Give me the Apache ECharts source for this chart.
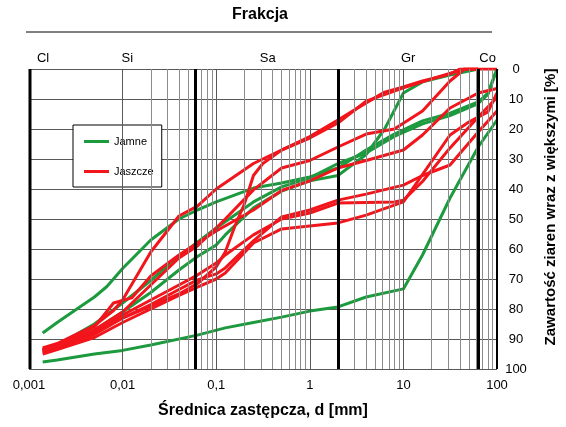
<!DOCTYPE html>
<html>
<head>
<meta charset="utf-8">
<script src="https://cdn.jsdelivr.net/npm/echarts@6/dist/echarts.min.js"></script>
<style>
  html, body { margin: 0; padding: 0; background: #fff; }
  #chart { width: 566px; height: 427px; }
</style>
</head>
<body>
<div id="chart"></div>
<script>
// Krzywe uziarnienia: [średnica d mm, zawartość ziaren wraz z większymi %]
const JAMNE_1 = [[0.0014,88],[0.002,84.5],[0.005,76],[0.0068,72.5],[0.01,66.5],[0.02,57],[0.04,50],[0.063,47],[0.1,44.3],[0.25,39.7],[0.5,38],[1,36],[2,33],[4,27],[8,21.7],[16,17.3],[31.5,14.7],[63,11],[80,8],[100,0]];
const JAMNE_2 = [[0.0014,93.5],[0.002,92],[0.005,85],[0.01,78],[0.02,70.5],[0.04,62.5],[0.063,57.7],[0.1,53],[0.25,44.3],[0.5,39.3],[1,36.3],[2,31.5],[4,28],[8,22.5],[16,18.3],[31.5,15.5],[63,11.5],[80,8.5],[100,0]];
const JAMNE_3 = [[0.0014,94],[0.002,92.5],[0.005,87],[0.01,81],[0.02,74.5],[0.04,67],[0.063,62.5],[0.1,58.7],[0.125,55.3],[0.25,46.3],[0.5,40.7],[1,37.3],[2,35.5],[4,28.5],[6.3,20],[10,8],[16,4.3],[31.5,2],[63,0]];
const JAMNE_4 = [[0.0014,97.7],[0.002,97],[0.005,95],[0.01,93.8],[0.02,92],[0.063,88.7],[0.125,86.3],[0.25,84.5],[0.5,82.7],[1,80.7],[2,79.3],[4,76],[10,73.3],[16,62],[31.5,43],[63,26],[100,17]];

const JASZCZE_1 = [[0.0014,93],[0.002,91.5],[0.005,85.5],[0.008,80.5],[0.01,77],[0.02,61],[0.04,49],[0.063,45.7],[0.1,40],[0.25,31.5],[0.5,27],[1,22.5],[2,17],[4,11.3],[6.3,7.7],[10,6],[16,4],[31.5,1.7],[40,0],[63,0],[100,0]];
const JASZCZE_2 = [[0.0014,93.5],[0.002,92],[0.005,86],[0.008,78],[0.0125,76.3],[0.02,69],[0.04,62],[0.063,58],[0.1,54],[0.25,47],[0.5,40.5],[1,37.3],[2,33],[4,30.5],[10,27],[16,22],[31.5,13],[63,8],[100,6.5]];
const JASZCZE_3 = [[0.0014,94],[0.002,92.5],[0.005,88],[0.01,83],[0.02,79],[0.04,75],[0.063,71.5],[0.1,66],[0.125,61],[0.16,52],[0.2,45],[0.25,35.5],[0.315,31.5],[0.5,27],[1,23],[2,18],[4,10.7],[10,6.3],[20,3.3],[45,0],[63,0]];
const JASZCZE_4 = [[0.0014,93.5],[0.002,92],[0.005,87.5],[0.01,82],[0.02,77],[0.04,72],[0.063,68.7],[0.1,64.7],[0.125,62],[0.25,55.3],[0.5,50],[1,48],[2,44.7],[4,44.5],[8,44.3],[10,43.7],[16,37.5],[31.5,26.3],[63,16],[100,9.5]];
const JASZCZE_5 = [[0.0014,94.5],[0.002,93],[0.005,88.5],[0.01,83],[0.02,78.5],[0.04,73.5],[0.063,70.3],[0.1,68.3],[0.125,66.3],[0.25,57.3],[0.5,49.3],[1,47],[2,43.7],[4,41.7],[10,38.7],[16,35.5],[31.5,32],[63,21],[100,14]];
const JASZCZE_6 = [[0.0014,95],[0.002,93.5],[0.005,89.5],[0.01,84.5],[0.02,80],[0.04,75.5],[0.063,72.7],[0.1,70],[0.125,68],[0.25,58],[0.5,53.3],[1,52.3],[2,51.3],[4,48.7],[10,44.3],[31.5,22],[50,17.7],[80,14.3],[100,8]];
const JASZCZE_7 = [[0.0014,94],[0.002,92.5],[0.005,87],[0.01,81],[0.02,72],[0.04,63],[0.063,59],[0.1,53],[0.125,50],[0.25,40.3],[0.5,33],[1,30.5],[2,26],[4,21.7],[8,20],[16,14],[31.5,4],[45,0],[63,0]];

const JAMNE = [JAMNE_1, JAMNE_2, JAMNE_3, JAMNE_4];
const JASZCZE = [JASZCZE_1, JASZCZE_2, JASZCZE_3, JASZCZE_4, JASZCZE_5, JASZCZE_6, JASZCZE_7];

const FRACTIONS = ['Cl', 'Si', 'Sa', 'Gr', 'Co'];
const FRACTION_BOUNDS = [0.001, 0.002, 0.063, 2, 63, 100];

const GREEN = '#1c9a3e';
const RED = '#f2151b';
const FONT = 'Liberation Sans, Arial, sans-serif';

// siatka pionowa: 1..9 w każdej dekadzie
const decadeLines = [], minorLines = [];
for (let e = -3; e < 2; e++) {
  const base = Math.pow(10, e);
  if (e > -3) decadeLines.push(+base.toPrecision(3));
  for (let k = 2; k <= 9; k++) minorLines.push(+(k * base).toPrecision(3));
}

function vLines(values, color, width) {
  return values.map(v => ({ xAxis: v, lineStyle: { color: color, width: width, type: 'solid' } }));
}

const gridSeries = {
  type: 'line',
  data: [],
  z: 1,
  silent: true,
  markLine: {
    silent: true,
    symbol: ['none', 'none'],
    label: { show: false },
    animation: false,
    data: [].concat(
      vLines(minorLines, '#8c8c8c', 1),
      vLines(decadeLines, '#595959', 1),
      vLines(FRACTION_BOUNDS.slice(1, 5), '#000', 3)
    )
  }
};

function curve(name, data, color) {
  return {
    name: name,
    type: 'line',
    data: data,
    symbol: 'none',
    z: 3,
    itemStyle: { color: color },
    lineStyle: { color: color, width: 3 },
    animation: false
  };
}

const option = {
  animation: false,
  backgroundColor: '#fff',
  textStyle: { fontFamily: FONT },
  grid: { left: 29, right: 69, top: 69, bottom: 58, containLabel: false },
  legend: {
    data: ['Jamne', 'Jaszcze'],
    orient: 'vertical',
    left: 73,
    top: 125,
    icon: 'rect',
    itemWidth: 25,
    itemHeight: 3,
    itemGap: 19,
    padding: [11, 8, 10, 11],
    borderColor: '#000',
    borderWidth: 1,
    backgroundColor: '#fff',
    textStyle: { fontSize: 11, color: '#000', fontFamily: FONT }
  },
  xAxis: {
    type: 'log',
    logBase: 10,
    min: 0.001,
    max: 100,
    axisLine: { show: false },
    axisTick: { show: false },
    splitLine: { show: false },
    axisLabel: {
      color: '#000',
      fontSize: 13,
      margin: 10,
      formatter: v => String(+(+v).toPrecision(6)).replace('.', ',')
    },
    name: 'Średnica zastępcza, d [mm]',
    nameLocation: 'middle',
    nameGap: 34,
    nameTextStyle: { color: '#000', fontSize: 16, fontWeight: 'bold' }
  },
  yAxis: {
    type: 'value',
    position: 'right',
    inverse: true,
    min: 0,
    max: 100,
    interval: 10,
    axisLine: { show: false },
    axisTick: { show: false },
    splitLine: { lineStyle: { color: '#595959', width: 1 } },
    axisLabel: { color: '#000', fontSize: 13, align: 'center', margin: 19 },
    name: 'Zawartość ziaren wraz z większymi [%]',
    nameLocation: 'middle',
    nameRotate: 90,
    nameGap: 46,
    nameTextStyle: { color: '#000', fontSize: 15, fontWeight: 'bold', padding: [0, 0, 0, 24] }
  },
  series: [gridSeries]
    .concat(JAMNE.map(d => curve('Jamne', d, GREEN)))
    .concat(JASZCZE.map(d => curve('Jaszcze', d, RED)))
};

const chart = echarts.init(document.getElementById('chart'));
chart.setOption(option);

// nagłówek frakcji nad wykresem
const fractionLabels = FRACTIONS.map((f, i) => {
  const mid = Math.sqrt(FRACTION_BOUNDS[i] * FRACTION_BOUNDS[i + 1]);
  const x = chart.convertToPixel({ xAxisIndex: 0 }, mid);
  return {
    type: 'text', x: x, y: 58,
    style: { text: f, fill: '#000', font: '13px ' + FONT, align: 'center', verticalAlign: 'middle' }
  };
});

// krawędzie pola wykresu
const xLeft = chart.convertToPixel({ xAxisIndex: 0 }, FRACTION_BOUNDS[0]);
const xRight = chart.convertToPixel({ xAxisIndex: 0 }, FRACTION_BOUNDS[5]);
const yTop = chart.convertToPixel({ yAxisIndex: 0 }, 0);
const yBottom = chart.convertToPixel({ yAxisIndex: 0 }, 100);

chart.setOption({
  graphic: [
    {
      type: 'text', x: 260, y: 15,
      style: { text: 'Frakcja', fill: '#000', font: 'bold 16px ' + FONT, align: 'center', verticalAlign: 'middle' }
    },
    {
      type: 'line', shape: { x1: 26, y1: 32, x2: 492, y2: 32 },
      style: { stroke: '#000', lineWidth: 1 }
    },
    {
      type: 'line', z: 5, shape: { x1: xLeft + 1, y1: yTop, x2: xLeft + 1, y2: yBottom },
      style: { stroke: '#000', lineWidth: 3 }
    },
    {
      type: 'line', z: 5, shape: { x1: xRight, y1: yTop, x2: xRight, y2: yBottom },
      style: { stroke: '#000', lineWidth: 2 }
    }
  ].concat(fractionLabels)
});
</script>
</body>
</html>
